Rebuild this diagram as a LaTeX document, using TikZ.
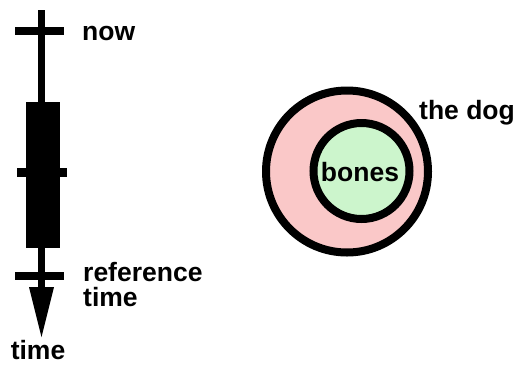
\documentclass[tikz,border=0pt]{standalone}
\usepackage{fontspec}
\setmainfont{Liberation Sans}
\definecolor{dogpink}{RGB}{250,200,200}
\definecolor{bonegreen}{RGB}{204,245,204}
\begin{document}
\begin{tikzpicture}[x=1pt,y=-1pt,
  lbl/.style={font=\fontsize{26.5}{25}\selectfont\bfseries, inner sep=0pt, text=black},
  ring/.style={line width=8pt, draw=black}]
\useasboundingbox (0,0) rectangle (522,365);
% timeline
\fill (37.5,10) rectangle (44.5,290);
\fill (15,27) rectangle (64,35);
\fill (26,102) rectangle (60,248);
\fill (17,168) rectangle (67,177);
\fill (15,272) rectangle (64,280);
\fill (29,287) -- (54,287) -- (41.5,337) -- cycle;
% labels
\node[lbl, anchor=west] (now) at (82,33) {now};
\node[lbl, anchor=west, align=left] (ref) at (83,285) {reference\\time};
\node[lbl, anchor=center] (time) at (38,350) {time};
% circles
\draw[ring, fill=dogpink] (347,171.5) circle (81);
\draw[ring, fill=bonegreen] (361.5,171) circle (48);
\node[lbl] (bones) at (360,172) {bones};
\node[lbl, anchor=west] (dog) at (419,113) {the dog};
\end{tikzpicture}
\end{document}
